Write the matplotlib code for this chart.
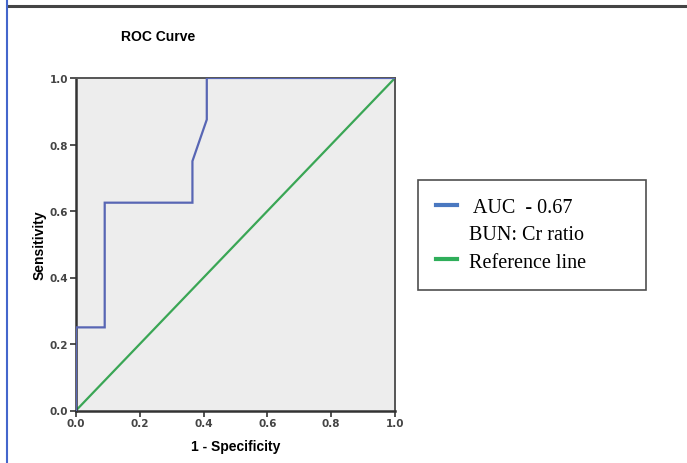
import matplotlib
matplotlib.use("Agg")
import matplotlib.pyplot as plt
from matplotlib.lines import Line2D

# ROC curve points (1 - specificity, sensitivity)
fpr = [0.0, 0.0, 0.09, 0.09, 0.365, 0.365, 0.41, 0.41, 1.0]
tpr = [0.0, 0.25, 0.25, 0.625, 0.625, 0.75, 0.875, 1.0, 1.0]
ref_line = [0.0, 1.0]

ticks = [0.0, 0.2, 0.4, 0.6, 0.8, 1.0]
tick_labels = ["0.0", "0.2", "0.4", "0.6", "0.8", "1.0"]
legend_labels = [" AUC  - 0.67", "BUN: Cr ratio", "Reference line"]

fig = plt.figure(figsize=(6.87, 4.64), dpi=100)
ax = fig.add_axes([76 / 687, 52.5 / 464, 319 / 687, 332.5 / 464])
ax.set_facecolor("#ededed")

ax.plot(fpr, tpr, color="#5866b4", lw=1.6, solid_joinstyle="miter", zorder=3)
ax.plot(ref_line, ref_line, color="#3aa655", lw=1.6, zorder=2)

ax.set_xlim(0, 1)
ax.set_ylim(0, 1)
ax.set_xticks(ticks)
ax.set_xticklabels(tick_labels)
ax.set_yticks(ticks)
ax.set_yticklabels(tick_labels)
ax.tick_params(direction="out", length=4, width=1.2, labelsize=7.5,
               labelcolor="#444444", color="#333333", pad=1.5)
for lab in ax.get_xticklabels() + ax.get_yticklabels():
    lab.set_fontweight("bold")

for side in ["left", "bottom"]:
    ax.spines[side].set_color("#333333")
    ax.spines[side].set_linewidth(1.8)
for side in ["top", "right"]:
    ax.spines[side].set_color("#555555")
    ax.spines[side].set_linewidth(1.4)

ax.set_xlabel("1 - Specificity", fontsize=10, fontweight="bold",
              family="Liberation Sans", labelpad=8)
ax.set_ylabel("Sensitivity", fontsize=10, fontweight="bold",
              family="Liberation Sans", labelpad=2)
fig.text(158 / 687, 1 - 37 / 464, "ROC Curve", fontsize=10, fontweight="bold",
         family="Liberation Sans", ha="center", va="center")

# legend (blank handle for the second line of the first entry)
handles = [Line2D([], [], color="#4a78c0", lw=3),
           Line2D([], [], color="none", lw=3),
           Line2D([], [], color="#2fae5a", lw=3)]
leg = fig.legend(handles, legend_labels, loc="upper left", mode="expand",
                 bbox_to_anchor=(418 / 687, 1 - 181 / 464, 228 / 687, 0.0),
                 prop={"family": "Liberation Serif", "size": 14.5},
                 frameon=True, fancybox=False, handlelength=1.05,
                 handletextpad=0.6, labelspacing=0.4, borderpad=0.9,
                 borderaxespad=0)
leg.get_frame().set_edgecolor("#222222")
leg.get_frame().set_linewidth(1.2)

# page frame lines around the figure
fig.add_artist(Line2D([8 / 687, 1], [1 - 7 / 464, 1 - 7 / 464],
                      color="#444444", lw=2.2, transform=fig.transFigure))
fig.add_artist(Line2D([7 / 687, 7 / 687], [0, 1], color="#4466cc",
                      lw=1.5, transform=fig.transFigure))

fig.savefig("out.png", dpi=100)
